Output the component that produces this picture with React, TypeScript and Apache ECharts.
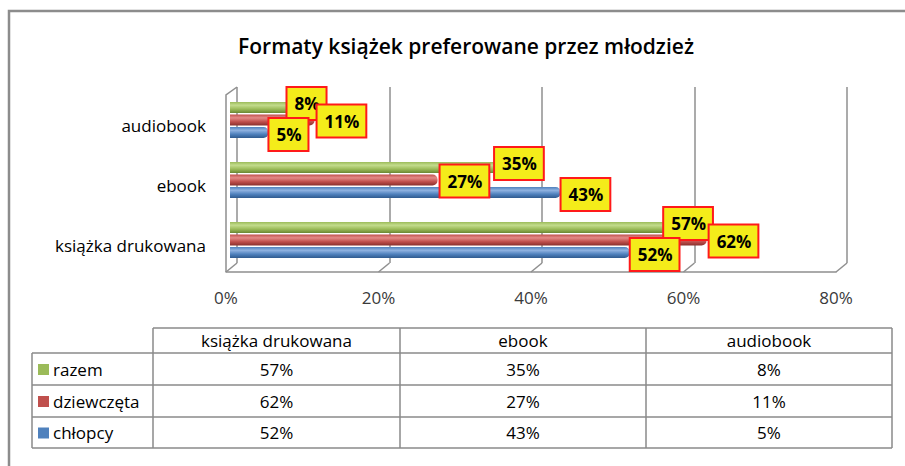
import React, { useEffect, useRef } from "react";
import * as echarts from "echarts";

const title = "Formaty książek preferowane przez młodzież";
const categories = ["książka drukowana", "ebook", "audiobook"];
const seriesNames = ["razem", "dziewczęta", "chłopcy"];
const razem = [57, 35, 8];
const dziewczeta = [62, 27, 11];
const chlopcy = [52, 43, 5];
const xMin = 0;
const xMax = 80;
const xInterval = 20;

const FONT = "'Open Sans', 'DejaVu Sans', sans-serif";
const palette = {
  blue: { light: "#8fb2e0", mid: "#4f81bd", dark: "#2f5a8e" },
  red: { light: "#e38a87", mid: "#c0504d", dark: "#8a2f2c" },
  green: { light: "#c3dc8c", mid: "#9bbb59", dark: "#6a8733" },
};
const seriesColors = [palette.green, palette.red, palette.blue];
const seriesValues = [razem, dziewczeta, chlopcy];

// layout constants
const BAR_GRID = { left: 230, width: 615, top: 90, height: 180 };
const BACK_GRID = { left: 237, width: 610, top: 87, height: 176 };
const FRONT_GRID = { left: 226, width: 610, top: 271, height: 1 };
const GRID_COLOR = "#8f8f8f";

const TABLE = {
  left: 32,
  cols: [153, 400, 646, 892],
  rowYs: [328, 353, 385, 417, 448],
};

function grad(c: { light: string; mid: string; dark: string }) {
  return new echarts.graphic.LinearGradient(0, 0, 0, 1, [
    { offset: 0, color: c.mid },
    { offset: 0.3, color: c.light },
    { offset: 0.65, color: c.mid },
    { offset: 1, color: c.dark },
  ]);
}

function buildGraphics() {
  const g: any[] = [];
  g.push({
    type: "rect",
    shape: { x: 9, y: 11, width: 960, height: 520 },
    style: { fill: "none", stroke: "#8c8c8c", lineWidth: 2.5 },
    silent: true,
  });
  const nTicks = (xMax - xMin) / xInterval;
  const frontStep = FRONT_GRID.width / nTicks;
  const backStep = BACK_GRID.width / nTicks;
  const floorY = FRONT_GRID.top + FRONT_GRID.height;
  const backBottom = BACK_GRID.top + BACK_GRID.height;
  for (let k = 0; k <= nTicks; k++) {
    g.push({
      type: "line",
      shape: {
        x1: FRONT_GRID.left + frontStep * k,
        y1: floorY,
        x2: BACK_GRID.left + backStep * k,
        y2: backBottom,
      },
      style: { stroke: GRID_COLOR, lineWidth: 1.5 },
      silent: true,
    });
  }
  g.push({
    type: "polyline",
    shape: {
      points: [
        [FRONT_GRID.left, floorY],
        [FRONT_GRID.left, BACK_GRID.top + 8],
        [BACK_GRID.left, BACK_GRID.top],
      ],
    },
    style: { stroke: GRID_COLOR, lineWidth: 1.5, fill: "none" },
    silent: true,
  });

  const lc = "#8a8a8a";
  const lw = 1.5;
  const cols = TABLE.cols;
  const ys = TABLE.rowYs;
  const last = ys[ys.length - 1];
  const line = (x1: number, y1: number, x2: number, y2: number) =>
    g.push({
      type: "line",
      shape: { x1, y1, x2, y2 },
      style: { stroke: lc, lineWidth: lw },
      silent: true,
    });
  line(cols[0], ys[0], cols[cols.length - 1], ys[0]);
  for (let i = 1; i < ys.length; i++) line(TABLE.left, ys[i], cols[cols.length - 1], ys[i]);
  line(TABLE.left, ys[1], TABLE.left, last);
  cols.forEach((x) => line(x, ys[0], x, last));

  const textStyle = { fontFamily: FONT, fontSize: 17, fill: "#000" };
  categories.forEach((cat, ci) => {
    g.push({
      type: "text",
      x: (cols[ci] + cols[ci + 1]) / 2,
      y: (ys[0] + ys[1]) / 2,
      style: { ...textStyle, text: cat, align: "center", verticalAlign: "middle" },
      silent: true,
    });
  });
  seriesNames.forEach((name, ri) => {
    const cy = (ys[ri + 1] + ys[ri + 2]) / 2;
    g.push({
      type: "rect",
      shape: { x: 38, y: cy - 5, width: 11, height: 11 },
      style: { fill: seriesColors[ri].mid },
      silent: true,
    });
    g.push({
      type: "text",
      x: 53,
      y: cy,
      style: { ...textStyle, text: name, align: "left", verticalAlign: "middle" },
      silent: true,
    });
    seriesValues[ri].forEach((v, ci) => {
      g.push({
        type: "text",
        x: (cols[ci] + cols[ci + 1]) / 2,
        y: cy,
        style: { ...textStyle, text: v + "%", align: "center", verticalAlign: "middle" },
        silent: true,
      });
    });
  });
  return g;
}

const labelNudges = [
  { distance: -4, offset: [0, -4] },
  { distance: 3, offset: [0, 1] },
  { distance: 1, offset: [0, 2] },
];

export default function App() {
  const ref = useRef<HTMLDivElement>(null);
  useEffect(() => {
    if (!ref.current) return;
    const chart = echarts.init(ref.current, undefined, { renderer: "svg" });
    const option: any = {
      animation: false,
      backgroundColor: "#ffffff",
      title: {
        text: title,
        left: 461,
        top: 30,
        textAlign: "center",
        textStyle: { fontFamily: FONT, fontSize: 21, fontWeight: 600, color: "#000" },
      },
      grid: [
        { ...BAR_GRID, containLabel: false },
        { ...BACK_GRID, containLabel: false },
        { ...FRONT_GRID, containLabel: false },
      ],
      xAxis: [
        { gridIndex: 0, type: "value", min: xMin, max: xMax, interval: xInterval, show: false },
        {
          gridIndex: 1,
          type: "value",
          min: xMin,
          max: xMax,
          interval: xInterval,
          axisLine: { show: false },
          axisTick: { show: false },
          axisLabel: { show: false },
          splitLine: { show: true, lineStyle: { color: GRID_COLOR, width: 1.5 } },
        },
        {
          gridIndex: 2,
          type: "value",
          min: xMin,
          max: xMax,
          interval: xInterval,
          position: "bottom",
          axisLine: { show: true, lineStyle: { color: GRID_COLOR, width: 1.5 } },
          axisTick: { show: false },
          splitLine: { show: false },
          axisLabel: {
            formatter: "{value}%",
            margin: 17,
            fontFamily: FONT,
            fontSize: 17,
            color: "#3a3a3a",
          },
        },
      ],
      yAxis: [
        {
          gridIndex: 0,
          type: "category",
          data: categories,
          axisLine: { show: false },
          axisTick: { show: false },
          splitLine: { show: false },
          axisLabel: {
            margin: 24,
            formatter: (v: string) => "{c|" + v + "}",
            rich: {
              c: {
                fontFamily: FONT,
                fontSize: 17,
                color: "#000",
                padding: [10, 0, 0, 0],
              },
            },
          },
        },
        { gridIndex: 1, type: "value", show: false },
        { gridIndex: 2, type: "value", show: false },
      ],
      series: seriesNames.map((name, i) => ({
        name,
        type: "bar",
        xAxisIndex: 0,
        yAxisIndex: 0,
        data: seriesValues[i],
        barWidth: 11,
        barGap: "14%",
        itemStyle: { color: grad(seriesColors[i]), borderRadius: [0, 5, 5, 0] },
        label: {
          show: true,
          position: "right",
          distance: labelNudges[i].distance,
          offset: labelNudges[i].offset,
          formatter: "{c}%",
          fontFamily: FONT,
          fontSize: 17,
          fontWeight: "bold",
          color: "#000",
          backgroundColor: "#f4ec1a",
          borderColor: "#ff1a1a",
          borderWidth: 2,
          padding: [6, 6, 5, 7],
          lineHeight: 20,
        },
      })),
      graphic: buildGraphics(),
    };
    chart.setOption(option);
    return () => chart.dispose();
  }, []);
  return (
    <div
      ref={ref}
      style={{ position: "absolute", left: 0, top: 0, width: 905, height: 466 }}
    />
  );
}
